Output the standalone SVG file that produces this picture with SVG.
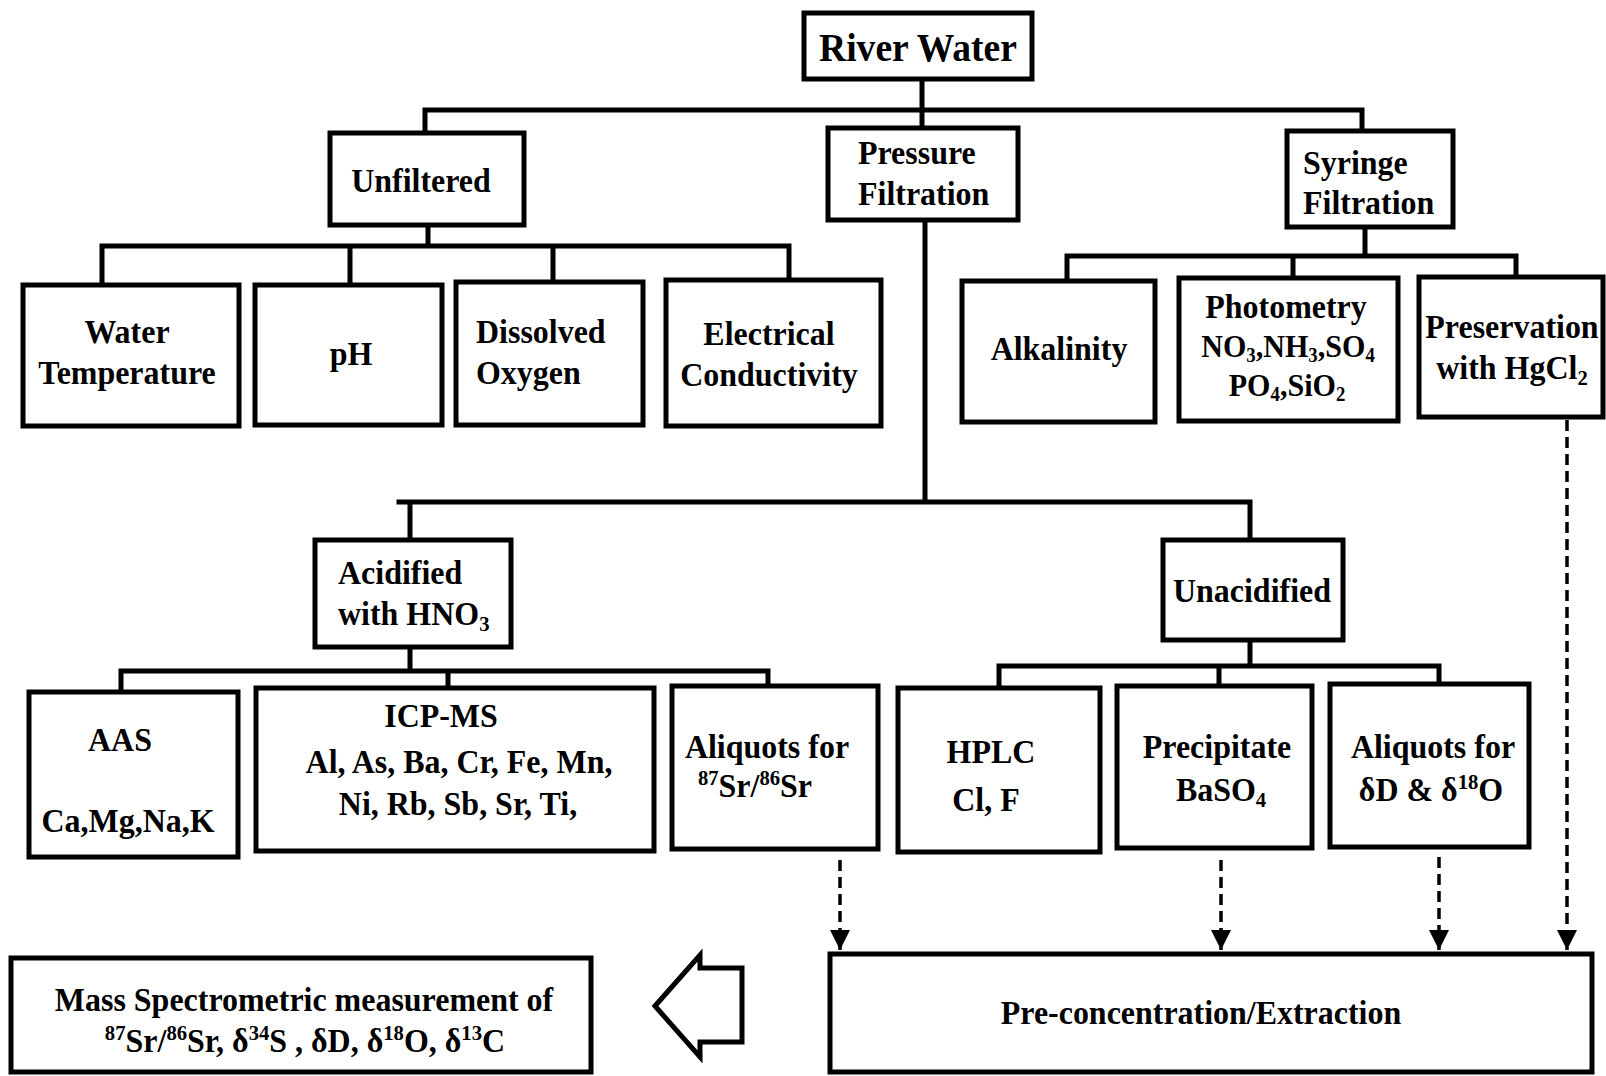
<svg xmlns="http://www.w3.org/2000/svg" width="1606" height="1076" viewBox="0 0 1606 1076">
  <style>
    .box { fill: #fff; stroke: #000; stroke-width: 5; }
    .ln { fill: none; stroke: #000; stroke-width: 5; stroke-linecap: square; }
    .dash { fill: none; stroke: #000; stroke-width: 3.5; stroke-dasharray: 11 6; }
    .hollow { fill: #fff; stroke: #000; stroke-width: 5; stroke-linejoin: miter; }
    text { font-family: "Liberation Serif", "Times New Roman", serif; font-weight: bold; font-size: 34px; fill: #000;
           transform-box: fill-box; transform-origin: center; transform: scaleX(0.94); }
    text.l { transform-origin: left center; }
    .c { text-anchor: middle; }
    .s { font-size: 22px; }
    .chem { font-size: 32px; }
    .chem .s { font-size: 20px; }
  </style>
  <defs>
    <marker id="tri" markerUnits="userSpaceOnUse" markerWidth="22" markerHeight="22" refX="20" refY="10" orient="auto">
      <path d="M0,0 L20,10 L0,20 Z" fill="#000"/>
    </marker>
  </defs>
  <rect width="1606" height="1076" fill="#fff"/>

  <!-- tree connectors -->
  <g id="connectors">
    <path class="ln" d="M922,80 V128 M425,110 H1362 M425,110 V133 M1362,110 V131"/>
    <path class="ln" d="M428,225 V246 M102,246 H789 M102,246 V285 M350,246 V285 M553,246 V282 M789,246 V280"/>
    <path class="ln" d="M1365,227 V256 M1067,256 H1516 M1067,256 V281 M1293,256 V278 M1516,256 V277"/>
    <path class="ln" d="M925,220 V502 M399,502 H1250 M410,502 V540 M1250,502 V540"/>
    <path class="ln" d="M410,647 V671 M121,671 H768 M121,671 V692 M448,671 V688 M768,671 V686"/>
    <path class="ln" d="M1250,640 V666 M999,666 H1439 M999,666 V688 M1219,666 V686 M1439,666 V684"/>
    <path class="dash" d="M840,860 V950" marker-end="url(#tri)"/>
    <path class="dash" d="M1221,860 V950" marker-end="url(#tri)"/>
    <path class="dash" d="M1439,857 V950" marker-end="url(#tri)"/>
    <path class="dash" d="M1567,420 V950" marker-end="url(#tri)"/>
    <path id="result-arrow" class="hollow" d="M655,1006 L700,955 L700,968 L742,968 L742,1042 L700,1042 L700,1057 Z"/>
  </g>

  <g id="river-water">
    <rect class="box" x="804" y="13" width="228" height="66"/>
    <text class="c" x="918" y="61" style="font-size:40px">River Water</text>
  </g>

  <g id="unfiltered">
    <rect class="box" x="330" y="133" width="194" height="92"/>
    <text class="c" x="421" y="192">Unfiltered</text>
  </g>

  <g id="pressure-filtration">
    <rect class="box" x="828" y="128" width="190" height="92"/>
    <text class="l" x="858" y="164">Pressure</text>
    <text class="l" x="858" y="205">Filtration</text>
  </g>

  <g id="syringe-filtration">
    <rect class="box" x="1287" y="131" width="166" height="96"/>
    <text class="l" x="1303" y="174">Syringe</text>
    <text class="l" x="1303" y="214">Filtration</text>
  </g>

  <g id="water-temperature">
    <rect class="box" x="23" y="285" width="216" height="141"/>
    <text class="c" x="127" y="343">Water</text>
    <text class="c" x="127" y="384">Temperature</text>
  </g>

  <g id="ph">
    <rect class="box" x="255" y="285" width="187" height="140"/>
    <text class="c" x="351" y="365">pH</text>
  </g>

  <g id="dissolved-oxygen">
    <rect class="box" x="456" y="282" width="187" height="143"/>
    <text class="l" x="476" y="343">Dissolved</text>
    <text class="l" x="476" y="384">Oxygen</text>
  </g>

  <g id="electrical-conductivity">
    <rect class="box" x="666" y="280" width="215" height="146"/>
    <text class="c" x="769" y="345">Electrical</text>
    <text class="c" x="769" y="386">Conductivity</text>
  </g>

  <g id="alkalinity">
    <rect class="box" x="962" y="281" width="193" height="141"/>
    <text class="c" x="1059" y="360">Alkalinity</text>
  </g>

  <g id="photometry">
    <rect class="box" x="1179" y="278" width="219" height="143"/>
    <text class="c" x="1286" y="318">Photometry</text>
    <text class="c chem" x="1288" y="357">NO<tspan class="s" dy="5">3</tspan><tspan dy="-5">,NH</tspan><tspan class="s" dy="5">3</tspan><tspan dy="-5">,SO</tspan><tspan class="s" dy="5">4</tspan></text>
    <text class="c chem" x="1287" y="396">PO<tspan class="s" dy="5">4</tspan><tspan dy="-5">,SiO</tspan><tspan class="s" dy="5">2</tspan></text>
  </g>

  <g id="preservation">
    <rect class="box" x="1419" y="277" width="184" height="140"/>
    <text class="c" x="1512" y="338">Preservation</text>
    <text class="c" x="1512" y="379">with HgCl<tspan class="s" dy="6">2</tspan></text>
  </g>

  <g id="acidified">
    <rect class="box" x="315" y="540" width="196" height="107"/>
    <text class="l" x="338" y="584">Acidified</text>
    <text class="l" x="338" y="625">with HNO<tspan class="s" dy="6">3</tspan></text>
  </g>

  <g id="unacidified">
    <rect class="box" x="1163" y="540" width="180" height="100"/>
    <text class="c" x="1252" y="602">Unacidified</text>
  </g>

  <g id="aas">
    <rect class="box" x="29" y="692" width="209" height="165"/>
    <text class="c" x="120" y="751">AAS</text>
    <text class="c" x="128" y="832">Ca,Mg,Na,K</text>
  </g>

  <g id="icp-ms">
    <rect class="box" x="256" y="688" width="398" height="163"/>
    <text class="c" x="441" y="727">ICP-MS</text>
    <text class="c" x="459" y="773">Al, As, Ba, Cr, Fe, Mn,</text>
    <text class="c" x="458" y="815">Ni, Rb, Sb, Sr, Ti,</text>
  </g>

  <g id="aliquots-sr">
    <rect class="box" x="672" y="686" width="206" height="163"/>
    <text class="c" x="767" y="758">Aliquots for</text>
    <text class="c" x="755" y="797"><tspan class="s" dy="-12">87</tspan><tspan dy="12">Sr/</tspan><tspan class="s" dy="-12">86</tspan><tspan dy="12">Sr</tspan></text>
  </g>

  <g id="hplc">
    <rect class="box" x="898" y="688" width="202" height="164"/>
    <text class="c" x="991" y="763">HPLC</text>
    <text class="c" x="986" y="811">Cl, F</text>
  </g>

  <g id="precipitate">
    <rect class="box" x="1117" y="686" width="195" height="162"/>
    <text class="c" x="1217" y="758">Precipitate</text>
    <text class="c" x="1221" y="801">BaSO<tspan class="s" dy="6">4</tspan></text>
  </g>

  <g id="aliquots-isotopes">
    <rect class="box" x="1330" y="684" width="199" height="163"/>
    <text class="c" x="1433" y="758">Aliquots for</text>
    <text class="c" x="1431" y="801">δD &amp; δ<tspan class="s" dy="-12">18</tspan><tspan dy="12">O</tspan></text>
  </g>

  <g id="pre-concentration">
    <rect class="box" x="830" y="954" width="762" height="118"/>
    <text class="c" x="1201" y="1024">Pre-concentration/Extraction</text>
  </g>

  <g id="mass-spectrometry">
    <rect class="box" x="11" y="958" width="580" height="114"/>
    <text class="c" x="304" y="1011">Mass Spectrometric measurement of</text>
    <text class="c" x="305" y="1052"><tspan class="s" dy="-12">87</tspan><tspan dy="12">Sr/</tspan><tspan class="s" dy="-12">86</tspan><tspan dy="12">Sr, δ</tspan><tspan class="s" dy="-12">34</tspan><tspan dy="12">S , δD, δ</tspan><tspan class="s" dy="-12">18</tspan><tspan dy="12">O, δ</tspan><tspan class="s" dy="-12">13</tspan><tspan dy="12">C</tspan></text>
  </g>
</svg>
